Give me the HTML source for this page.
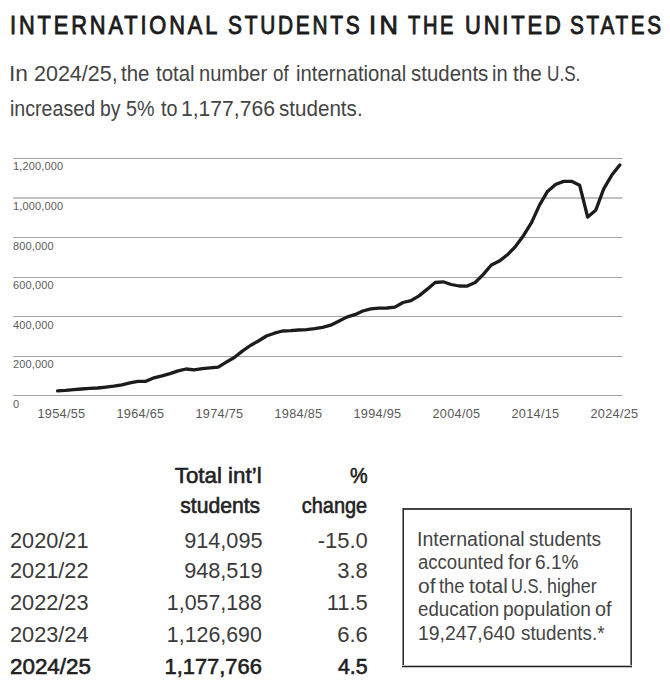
<!DOCTYPE html>
<html>
<head>
<meta charset="utf-8">
<style>
html,body{margin:0;padding:0;background:#fff;}
body{width:670px;height:693px;position:relative;overflow:hidden;font-family:"Liberation Sans",Arial,sans-serif;}
.t{position:absolute;white-space:nowrap;line-height:1;}
.tw{top:12.7px;font-size:25px;color:#1c1c1c;letter-spacing:3.3px;transform-origin:0 0;-webkit-text-stroke:0.9px #1c1c1c;}
.sub{font-size:22px;color:#444;transform-origin:0 0;}
.s1{top:62.6px;}
.s2{top:97.5px;}
.yl{font-size:11px;color:#5c5c5c;left:13px;letter-spacing:0.15px;}
.xl{font-size:12.7px;color:#595959;width:80px;text-align:center;letter-spacing:0.3px;}
.th{font-size:22px;color:#222;text-align:right;-webkit-text-stroke:0.6px #222;transform-origin:100% 0;}
.td{font-size:22px;color:#3a3a3a;}
.num{text-align:right;}
.b{color:#1e1e1e;-webkit-text-stroke:0.6px #1e1e1e;}
.ln{position:absolute;}
.bx{font-size:19.7px;color:#444;transform-origin:0 0;}
.bx1{top:529.9px;}
.bx2{top:553.3px;}
.bx3{top:576.7px;}
.bx4{top:600.1px;}
.bx5{top:623.5px;}
</style>
</head>
<body>
<!--TITLE-->
<div class="t tw" style="left:10.00px;transform:scaleX(0.8720)">INTERNATIONAL</div>
<div class="t tw" style="left:228.40px;transform:scaleX(0.8340)">STUDENTS</div>
<div class="t tw" style="left:369.40px;transform:scaleX(1.0183)">IN</div>
<div class="t tw" style="left:407.80px;transform:scaleX(0.8040)">THE</div>
<div class="t tw" style="left:465.00px;transform:scaleX(0.8750)">UNITED</div>
<div class="t tw" style="left:570.20px;transform:scaleX(0.8279)">STATES</div>
<!--/TITLE-->
<!--SUB1-->
<div class="t sub s1" style="left:8.80px;transform:scaleX(1.0322)">In</div>
<div class="t sub s1" style="left:33.80px;transform:scaleX(0.9772)">2024/25,</div>
<div class="t sub s1" style="left:120.80px;transform:scaleX(0.9272)">the</div>
<div class="t sub s1" style="left:156.40px;transform:scaleX(0.9284)">total</div>
<div class="t sub s1" style="left:198.80px;transform:scaleX(0.9135)">number</div>
<div class="t sub s1" style="left:273.00px;transform:scaleX(0.8520)">of</div>
<div class="t sub s1" style="left:296.20px;transform:scaleX(0.9204)">international</div>
<div class="t sub s1" style="left:410.80px;transform:scaleX(0.9297)">students</div>
<div class="t sub s1" style="left:492.00px;transform:scaleX(0.9135)">in</div>
<div class="t sub s1" style="left:513.00px;transform:scaleX(0.9409)">the</div>
<div class="t sub s1" style="left:547.00px;transform:scaleX(0.7790)">U.S.</div>
<!--/SUB1-->
<!--SUB2-->
<div class="t sub s2" style="left:9.80px;transform:scaleX(0.8920)">increased</div>
<div class="t sub s2" style="left:99.60px;transform:scaleX(0.8816)">by</div>
<div class="t sub s2" style="left:126.00px;transform:scaleX(0.8969)">5%</div>
<div class="t sub s2" style="left:161.00px;transform:scaleX(0.8965)">to</div>
<div class="t sub s2" style="left:180.80px;transform:scaleX(0.9595)">1,177,766</div>
<div class="t sub s2" style="left:279.20px;transform:scaleX(0.9366)">students.</div>
<!--/SUB2-->

<svg style="position:absolute;left:0;top:0" width="670" height="693" viewBox="0 0 670 693">
<g stroke="#a3a3a3" stroke-width="1">
<line x1="13" x2="622.5" y1="158.5" y2="158.5"/>
<line x1="13" x2="622.5" y1="237.5" y2="237.5"/>
<line x1="13" x2="622.5" y1="277.5" y2="277.5"/>
<line x1="13" x2="622.5" y1="316.5" y2="316.5"/>
<line x1="13" x2="622.5" y1="356.5" y2="356.5"/>
<line x1="13" x2="622.5" y1="395.5" y2="395.5"/>
</g>
<line x1="13" x2="622.5" y1="198" y2="198" stroke="#c2c2c2" stroke-width="2"/>
<polyline fill="none" stroke="#1c1c1c" stroke-width="3.3" stroke-linejoin="round" stroke-linecap="round" points="57.6,390.8 65.6,390.4 73.7,389.6 81.7,389.0 89.7,388.3 97.8,388.0 105.8,387.1 113.8,386.1 121.9,384.8 129.9,382.8 137.9,381.4 145.9,381.3 154.0,377.8 162.0,375.8 170.0,373.6 178.1,370.9 186.1,369.0 194.1,369.9 202.2,368.7 210.2,367.8 218.2,367.1 226.3,362.2 234.3,357.5 242.3,351.1 250.4,345.5 258.4,341.0 266.4,336.0 274.4,333.2 282.5,331.0 290.5,330.7 298.5,330.0 306.6,329.7 314.6,328.6 322.6,327.3 330.7,325.2 338.7,321.2 346.7,317.1 354.8,314.7 362.8,311.0 370.8,308.8 378.9,308.2 386.9,308.0 394.9,307.1 403.0,302.5 411.0,300.6 419.0,295.9 427.0,289.4 435.1,282.5 443.1,281.8 451.1,284.5 459.2,286.0 467.2,286.1 475.2,282.5 483.3,274.4 491.3,265.0 499.3,261.1 507.4,254.8 515.4,246.6 523.4,235.7 531.5,222.6 539.5,205.1 547.5,191.4 555.5,184.5 563.6,181.4 571.6,181.3 579.6,185.2 587.7,217.1 595.7,210.3 603.7,188.8 611.8,175.1 619.8,165.0"/>
</svg>

<div class="t yl" style="top:161.0px">1,200,000</div>
<div class="t yl" style="top:201.3px">1,000,000</div>
<div class="t yl" style="top:240.8px">800,000</div>
<div class="t yl" style="top:280.3px">600,000</div>
<div class="t yl" style="top:319.8px">400,000</div>
<div class="t yl" style="top:359.3px">200,000</div>
<div class="t yl" style="top:398.8px">0</div>

<div class="t xl" style="left:21.5px;top:408px">1954/55</div>
<div class="t xl" style="left:100.5px;top:408px">1964/65</div>
<div class="t xl" style="left:179.5px;top:408px">1974/75</div>
<div class="t xl" style="left:258.5px;top:408px">1984/85</div>
<div class="t xl" style="left:337.5px;top:408px">1994/95</div>
<div class="t xl" style="left:416.5px;top:408px">2004/05</div>
<div class="t xl" style="left:495.5px;top:408px">2014/15</div>
<div class="t xl" style="left:574.5px;top:408px">2024/25</div>

<div class="t th" style="right:408px;top:464.6px;transform:scaleX(1.015)">Total int’l</div>
<div class="t th" style="right:409.8px;top:494.6px;transform:scaleX(0.961)">students</div>
<div class="t th" style="right:302.6px;top:464.6px;transform:scaleX(0.9)">%</div>
<div class="t th" style="right:303.2px;top:494.6px;transform:scaleX(0.906)">change</div>

<!--TBL-->
<div class="t td" style="left:10px;top:529.6px;transform:scaleX(0.987);transform-origin:0 0">2020/21</div>
<div class="t td" style="right:407.8px;top:529.6px;transform:scaleX(0.985);transform-origin:100% 0">914,095</div>
<div class="t td" style="right:302.2px;top:529.6px;transform:scaleX(1);transform-origin:100% 0">-15.0</div>
<div class="t td" style="left:10px;top:560.4px;transform:scaleX(0.987);transform-origin:0 0">2021/22</div>
<div class="t td" style="right:407.8px;top:560.4px;transform:scaleX(0.985);transform-origin:100% 0">948,519</div>
<div class="t td" style="right:302.2px;top:560.4px;transform:scaleX(1);transform-origin:100% 0">3.8</div>
<div class="t td" style="left:10px;top:592.3px;transform:scaleX(0.987);transform-origin:0 0">2022/23</div>
<div class="t td" style="right:407.8px;top:592.3px;transform:scaleX(0.971);transform-origin:100% 0">1,057,188</div>
<div class="t td" style="right:302.2px;top:592.3px;transform:scaleX(1);transform-origin:100% 0">11.5</div>
<div class="t td" style="left:10px;top:623.6px;transform:scaleX(0.987);transform-origin:0 0">2023/24</div>
<div class="t td" style="right:407.8px;top:623.6px;transform:scaleX(0.971);transform-origin:100% 0">1,126,690</div>
<div class="t td" style="right:302.2px;top:623.6px;transform:scaleX(1);transform-origin:100% 0">6.6</div>
<div class="t td b" style="left:10px;top:656.0px;transform:scaleX(1.018);transform-origin:0 0">2024/25</div>
<div class="t td b" style="right:407.8px;top:656.0px;transform:scaleX(0.995);transform-origin:100% 0">1,177,766</div>
<div class="t td b" style="right:302.2px;top:656.0px;transform:scaleX(0.97);transform-origin:100% 0">4.5</div>
<!--/TBL-->

<div class="ln" style="left:402px;top:508px;width:230px;height:2px;background:#444"></div>
<div class="ln" style="left:402px;top:508px;width:1px;height:160px;background:#8a8a8a"></div>
<div class="ln" style="left:403px;top:508px;width:1px;height:160px;background:#2c2c2c"></div>
<div class="ln" style="left:630px;top:508px;width:1px;height:160px;background:#808080"></div>
<div class="ln" style="left:631px;top:508px;width:1px;height:160px;background:#333"></div>
<div class="ln" style="left:402px;top:665px;width:230px;height:1px;background:#bdbdbd"></div>
<div class="ln" style="left:402px;top:666px;width:230px;height:1px;background:#222"></div>
<div class="ln" style="left:402px;top:667px;width:230px;height:1px;background:#c4c4c4"></div>
<!--BX1-->
<div class="t bx bx1" style="left:416.80px;transform:scaleX(0.9933)">International</div>
<div class="t bx bx1" style="left:528.60px;transform:scaleX(0.9683)">students</div>
<!--/BX1-->
<!--BX2-->
<div class="t bx bx2" style="left:417.80px;transform:scaleX(0.9419)">accounted</div>
<div class="t bx bx2" style="left:508.00px;transform:scaleX(1.0168)">for</div>
<div class="t bx bx2" style="left:535.40px;transform:scaleX(0.9694)">6.1%</div>
<!--/BX2-->
<!--BX3-->
<div class="t bx bx3" style="left:417.80px;transform:scaleX(1.0643)">of</div>
<div class="t bx bx3" style="left:438.60px;transform:scaleX(0.9342)">the</div>
<div class="t bx bx3" style="left:469.00px;transform:scaleX(1.0397)">total</div>
<div class="t bx bx3" style="left:511.00px;transform:scaleX(0.8332)">U.S.</div>
<div class="t bx bx3" style="left:547.40px;transform:scaleX(0.9074)">higher</div>
<!--/BX3-->
<!--BX4-->
<div class="t bx bx4" style="left:417.80px;transform:scaleX(0.9516)">education</div>
<div class="t bx bx4" style="left:503.40px;transform:scaleX(0.9679)">population</div>
<div class="t bx bx4" style="left:594.80px;transform:scaleX(1.0049)">of</div>
<!--/BX4-->
<!--BX5-->
<div class="t bx bx5" style="left:418.00px;transform:scaleX(0.9858)">19,247,640</div>
<div class="t bx bx5" style="left:520.60px;transform:scaleX(0.9531)">students.*</div>
<!--/BX5-->
</body>
</html>
